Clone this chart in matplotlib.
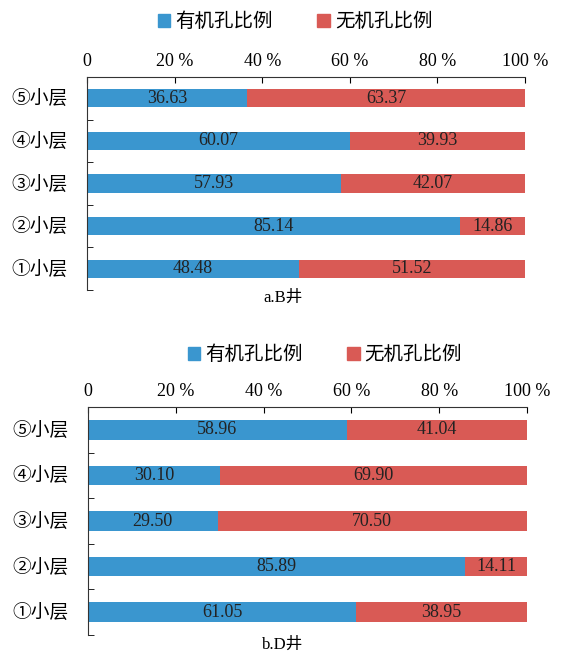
import matplotlib
matplotlib.use('Agg')
import matplotlib.pyplot as plt
from matplotlib.patches import Patch

plt.rcParams['font.family'] = ['Liberation Serif', 'Noto Sans CJK SC']

layers = ['①小层', '②小层', '③小层', '④小层', '⑤小层']
organic_b = [48.48, 85.14, 57.93, 60.07, 36.63]
inorganic_b = [51.52, 14.86, 42.07, 39.93, 63.37]
organic_d = [61.05, 85.89, 29.50, 30.10, 58.96]
inorganic_d = [38.95, 14.11, 70.50, 69.90, 41.04]
xticks = [0, 20, 40, 60, 80, 100]
xticklabels = ['0', '20 %', '40 %', '60 %', '80 %', '100 %']
series_names = ['有机孔比例', '无机孔比例']

blue = '#3A96CF'
red = '#D95A55'

fig = plt.figure(figsize=(5.64, 6.56), dpi=100)


def panel(rect, org, inorg, leg_y, leg_x):
    ax = fig.add_axes(rect)
    y = list(range(len(layers)))
    ax.barh(y, org, height=0.43, color=blue)
    ax.barh(y, inorg, left=org, height=0.43, color=red)
    for i in y:
        ax.text(org[i] / 2, i, f'{org[i]:.2f}', ha='center', va='center', fontsize=13, color='#222222')
        ax.text(org[i] + inorg[i] / 2, i, f'{inorg[i]:.2f}', ha='center', va='center', fontsize=13, color='#222222')
    ax.set_xlim(0, 100)
    ax.set_ylim(-0.5, len(layers) - 0.5)
    ax.xaxis.tick_top()
    ax.set_xticks(xticks)
    ax.set_xticklabels(xticklabels, fontsize=13)
    ax.tick_params(axis='x', direction='in', length=4, pad=5, top=True, bottom=False)
    ax.set_yticks([i + 0.5 for i in y[:-1]] + [-0.5], minor=True)
    ax.set_yticks(y)
    ax.set_yticklabels(layers, fontsize=13.5)
    ax.tick_params(axis='y', which='major', length=0, pad=14)
    ax.tick_params(axis='y', which='minor', direction='in', length=4)
    for s in ['right', 'bottom']:
        ax.spines[s].set_visible(False)
    ax.spines['top'].set_color('#333333')
    ax.spines['left'].set_color('#333333')
    handles = [Patch(color=blue), Patch(color=red)]
    fig.legend(handles, series_names, loc='center', bbox_to_anchor=(leg_x, leg_y), ncol=2, frameon=False,
               fontsize=14, handlelength=0.65, handleheight=0.65, handletextpad=0.25, columnspacing=2.3)
    return ax


ax1 = panel([87 / 564, 1 - 290 / 656, 438 / 564, 213 / 656], organic_b, inorganic_b, 1 - 22 / 656, 0.523)
ax2 = panel([88 / 564, 1 - 635 / 656, 439 / 564, 228 / 656], organic_d, inorganic_d, 1 - 355 / 656, 0.576)
fig.text(283 / 564, 1 - 298 / 656, 'a.B井', ha='center', va='center', fontsize=12)
fig.text(283 / 564, 1 - 645 / 656, 'b.D井', ha='center', va='center', fontsize=12)

fig.savefig('out.png', dpi=100)
